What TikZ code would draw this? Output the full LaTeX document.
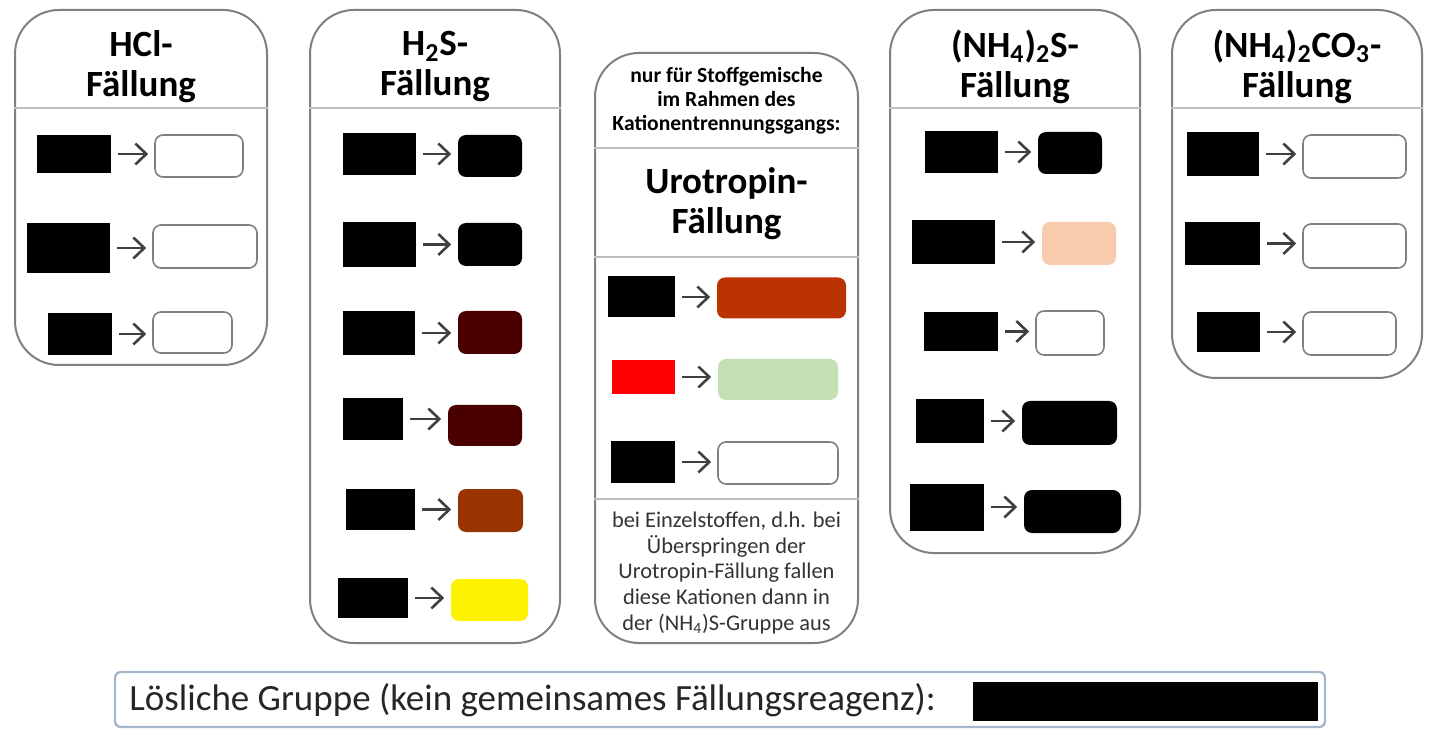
\documentclass[tikz,border=0pt]{standalone}
\usepackage{fontspec}
\setmainfont{Carlito}
\usetikzlibrary{positioning,arrows.meta}
\definecolor{rim}{RGB}{128,128,128}
\definecolor{sepline}{RGB}{190,190,190}
\definecolor{arrowgray}{RGB}{64,64,64}
\definecolor{solrim}{RGB}{165,182,202}
\definecolor{darkred}{RGB}{74,0,0}
\definecolor{brown}{RGB}{153,51,0}
\definecolor{rust}{RGB}{187,51,0}
\definecolor{paleg}{RGB}{197,224,180}
\definecolor{peach}{RGB}{248,203,173}
\begin{document}
\begin{tikzpicture}[x=0.5pt,y=-0.5pt]
\tikzstyle{panel}=[draw=rim, line width=1pt, rounded corners=22pt, inner sep=0pt]
\tikzstyle{sep}=[draw=sepline, line width=1pt]
\tikzstyle{ion}=[fill=black, inner sep=0pt]
\tikzstyle{ppt}=[rounded corners=4pt, inner sep=0pt, line width=0.8pt]
\tikzstyle{reac}=[draw=arrowgray, line width=1.3pt, -{Straight Barb[length=5.5pt,width=10.5pt]}, shorten <=3.5pt, shorten >=3pt]
\tikzstyle{title}=[font=\bfseries\fontsize{18.5}{20}\selectfont, align=center, inner sep=0pt]
\tikzset{wh/.style 2 args={minimum width=#1*0.5pt, minimum height=#2*0.5pt}}
\useasboundingbox (0,0) rectangle (1440,737);
\coordinate (hd) at (0,108);
\coordinate (ua) at (0,148);
\coordinate (ub) at (0,257);
\coordinate (uc) at (0,499);

% panels
\node[panel, wh={252}{355}] (hcl) at (141,187.5) {};
\node[panel, wh={250}{633}] (hts) at (435,326.5) {};
\node[panel, wh={263}{590}] (uro) at (726.5,348) {};
\node[panel, wh={250}{543}] (ams) at (1015,281.5) {};
\node[panel, wh={250}{368}] (amc) at (1297,194) {};
\draw[sep] (hcl.west |- hd) -- (hcl.east |- hd);
\draw[sep] (hts.west |- hd) -- (hts.east |- hd);
\draw[sep] (ams.west |- hd) -- (ams.east |- hd);
\draw[sep] (amc.west |- hd) -- (amc.east |- hd);
\draw[sep] (uro.west |- ua) -- (uro.east |- ua);
\draw[sep] (uro.west |- ub) -- (uro.east |- ub);
\draw[sep] (uro.west |- uc) -- (uro.east |- uc);

% titles
\node[title] (thcl) at (141,67) {HCl-\\Fällung};
\node[title] (thts) at (435,67) {H\textsubscript{2}S-\\Fällung};
\node[title] (tams) at (1015,67) {(NH\textsubscript{4})\textsubscript{2}S-\\Fällung};
\node[title] (tamc) at (1297,67) {(NH\textsubscript{4})\textsubscript{2}CO\textsubscript{3}-\\Fällung};
\node[title] (turo) at (726.5,204) {Urotropin-\\Fällung};
\node[align=center, inner sep=0pt, font=\bfseries\fontsize{10.8}{12}\selectfont] (nuro) at (726.5,101)
  {nur für Stoffgemische\\im Rahmen des\\Kationentrennungsgangs:};
\node[align=center, inner sep=0pt, text=black!80, font=\fontsize{11.2}{12.85}\selectfont] (furo) at (726.5,573)
  {bei Einzelstoffen, d.h. bei\\Überspringen der\\Urotropin-Fällung fallen\\diese Kationen dann in\\der (NH\textsubscript{4})S-Gruppe aus};

% HCl
\node[ion, wh={74}{38}] (h1l) at (74,154) {};
\node[ppt, draw=rim, wh={88}{42}] (h1r) at (199,156) {};
\node[ion, wh={83}{50}] (h2l) at (68.5,248) {};
\node[ppt, draw=rim, wh={104}{43}] (h2r) at (205,246.5) {};
\node[ion, wh={64}{42}] (h3l) at (80,334) {};
\node[ppt, draw=rim, wh={79}{41}] (h3r) at (192.5,332.5) {};
\path (h1l.east) edge[reac] (h1l -| h1r.west)
      (h2l.east) edge[reac] (h2l -| h2r.west)
      (h3l.east) edge[reac] (h3l -| h3r.west);

% H2S
\node[ion, wh={73}{42}] (s1l) at (379.5,154) {};
\node[ppt, fill=black, wh={64}{42}] (s1r) at (490,156) {};
\node[ion, wh={73}{45}] (s2l) at (379.5,244.5) {};
\node[ppt, fill=black, wh={64}{43}] (s2r) at (490,244.5) {};
\node[ion, wh={72}{44}] (s3l) at (379,333) {};
\node[ppt, fill=darkred, wh={64}{43}] (s3r) at (490,332.5) {};
\node[ion, wh={60}{42}] (s4l) at (373,419) {};
\node[ppt, fill=darkred, wh={74}{41}] (s4r) at (485,425.5) {};
\node[ion, wh={69}{41}] (s5l) at (380.5,509.5) {};
\node[ppt, fill=brown, wh={65}{43}] (s5r) at (490.5,510.5) {};
\node[ion, wh={70}{40}] (s6l) at (373,598) {};
\node[ppt, fill=yellow, wh={77}{42}] (s6r) at (489.5,600) {};
\path (s1l.east) edge[reac] (s1l -| s1r.west)
      (s2l.east) edge[reac] (s2l -| s2r.west)
      (s3l.east) edge[reac] (s3l -| s3r.west)
      (s4l.east) edge[reac] (s4l -| s4r.west)
      (s5l.east) edge[reac] (s5l -| s5r.west)
      (s6l.east) edge[reac] (s6l -| s6r.west);

% Urotropin
\node[ion, wh={67}{41}] (u1l) at (641.5,297) {};
\node[ppt, fill=rust, wh={129}{41}] (u1r) at (781.5,298) {};
\node[ion, fill=red, wh={63}{34}] (u2l) at (643.5,377) {};
\node[ppt, fill=paleg, wh={120}{41}] (u2r) at (778,379.5) {};
\node[ion, wh={64}{42}] (u3l) at (643,462) {};
\node[ppt, draw=rim, wh={120}{42}] (u3r) at (778,463) {};
\path (u1l.east) edge[reac] (u1l -| u1r.west)
      (u2l.east) edge[reac] (u2l -| u2r.west)
      (u3l.east) edge[reac] (u3l -| u3r.west);

% (NH4)2S
\node[ion, wh={73}{42}] (n1l) at (961.5,152) {};
\node[ppt, fill=black, wh={64}{42}] (n1r) at (1070,153) {};
\node[ion, wh={83}{44}] (n2l) at (953.5,242) {};
\node[ppt, fill=peach, wh={74}{43}] (n2r) at (1079,243.5) {};
\node[ion, wh={74}{39}] (n3l) at (961,331.5) {};
\node[ppt, draw=rim, wh={68}{44}] (n3r) at (1070,333) {};
\node[ion, wh={68}{44}] (n4l) at (950,421) {};
\node[ppt, fill=black, wh={95}{44}] (n4r) at (1069.5,423) {};
\node[ion, wh={74}{47}] (n5l) at (947,507) {};
\node[ppt, fill=black, wh={97}{43}] (n5r) at (1072.5,511.5) {};
\path (n1l.east) edge[reac] (n1l -| n1r.west)
      (n2l.east) edge[reac] (n2l -| n2r.west)
      (n3l.east) edge[reac] (n3l -| n3r.west)
      (n4l.east) edge[reac] (n4l -| n4r.west)
      (n5l.east) edge[reac] (n5l -| n5r.west);

% (NH4)2CO3
\node[ion, wh={72}{44}] (c1l) at (1223,154) {};
\node[ppt, draw=rim, wh={103}{43}] (c1r) at (1354.5,156.5) {};
\node[ion, wh={75}{43}] (c2l) at (1222.5,243.5) {};
\node[ppt, draw=rim, wh={103}{44}] (c2r) at (1354.5,246) {};
\node[ion, wh={63}{40}] (c3l) at (1228.5,332) {};
\node[ppt, draw=rim, wh={93}{43}] (c3r) at (1349.5,333.5) {};
\path (c1l.east) edge[reac] (c1l -| c1r.west)
      (c2l.east) edge[reac] (c2l -| c2r.west)
      (c3l.east) edge[reac] (c3l -| c3r.west);

% loesliche Gruppe
\node[draw=solrim, line width=1.2pt, rounded corners=3pt, inner sep=0pt, wh={1210}{55}] (sol) at (720,699.5) {};
\node[anchor=west, inner sep=0pt, text=black!85, font=\fontsize{18.5}{20}\selectfont] (soltxt) at (129,700)
  {Lösliche Gruppe (kein gemeinsames Fällungsreagenz):};
\node[ion, wh={345}{39}] (solion) at (1145.5,701.5) {};
\end{tikzpicture}
\end{document}
